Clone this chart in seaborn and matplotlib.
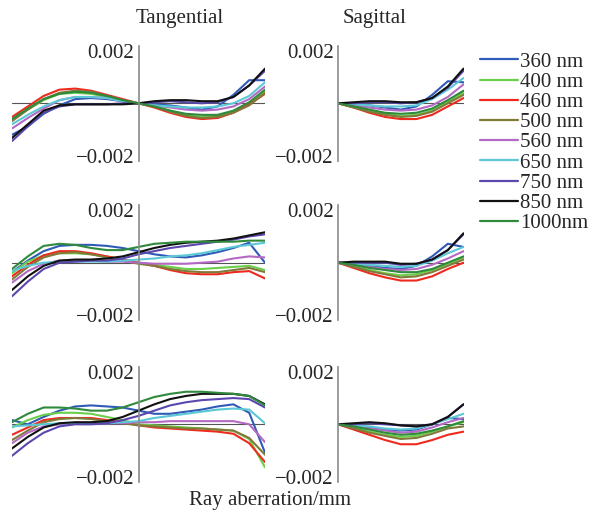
import matplotlib
matplotlib.use("Agg")
import matplotlib.pyplot as plt
import numpy as np
import pandas as pd
import seaborn as sns

# ---------------- data ----------------
wavelengths = ["360 nm", "400 nm", "460 nm", "500 nm", "560 nm", "650 nm", "750 nm", "850 nm", "1000nm"]
colors = ["#2f5bb7", "#6ccf4a", "#ee2a1e", "#807a3a", "#b469c4", "#5cc8d6", "#5b47ae", "#111111", "#2f8a3c"]

x_tan = [-1, -0.875, -0.75, -0.625, -0.5, -0.375, -0.25, -0.125, 0,
         0.125, 0.25, 0.375, 0.5, 0.625, 0.75, 0.875, 1]
x_sag = [0, 0.125, 0.25, 0.375, 0.5, 0.625, 0.75, 0.875, 1]

# Row 1 tangential
t1_360 = [-0.0012, -0.00088, -0.0004, -0.00008, 0.00016, 0.0002, 0.00016, 0.00008, 0, -0.00004, -0.00008, -0.00016, -0.00024, -0.00012, 0.00032, 0.00088, 0.00088]
t1_400 = [-0.00064, -0.00024, 0.00012, 0.00036, 0.0004, 0.00036, 0.00024, 0.00012, 0, -0.00012, -0.00028, -0.00044, -0.00052, -0.00048, -0.00032, -0.00004, 0.00044]
t1_460 = [-0.00052, -0.00012, 0.00028, 0.00052, 0.00056, 0.00048, 0.00032, 0.00016, 0, -0.00016, -0.00036, -0.00052, -0.0006, -0.00056, -0.00036, -0.00004, 0.00036]
t1_500 = [-0.00068, -0.00024, 0.00016, 0.0004, 0.00048, 0.00044, 0.00028, 0.00012, 0, -0.00012, -0.00032, -0.00048, -0.00056, -0.00052, -0.00036, -0.00008, 0.0004]
t1_560 = [-0.00096, -0.00056, -0.0002, 0.00012, 0.00024, 0.00024, 0.0002, 0.00008, 0, -0.00008, -0.00016, -0.00024, -0.00028, -0.00024, -0.00012, 0.00016, 0.00064]
t1_650 = [-0.0008, -0.00044, -0.00012, 0.00012, 0.00024, 0.00024, 0.0002, 0.00008, 0, -0.00008, -0.00012, -0.00016, -0.00016, -0.00012, 0, 0.00028, 0.0008]
t1_750 = [-0.00144, -0.00088, -0.00036, -0.00012, -0.00004, -0.00004, -0.00004, 0, 0, 0.00004, 0.00008, 0.00004, 0, 0.00004, 0.00024, 0.00068, 0.00124]
t1_850 = [-0.00132, -0.0008, -0.00028, -0.00008, -0.00004, -0.00004, -0.00004, -0.00004, 0, 0.00008, 0.00012, 0.00012, 0.00008, 0.00008, 0.00024, 0.00068, 0.00132]
t1_1000 = [-0.0006, -0.0002, 0.00016, 0.00036, 0.00044, 0.0004, 0.00028, 0.00012, 0, -0.00012, -0.00028, -0.0004, -0.00044, -0.00044, -0.00028, 0.00004, 0.00052]

# Row 1 sagittal
s1_360 = [0, -0.00004, -0.00008, -0.00016, -0.00024, -0.00012, 0.00032, 0.00084, 0.0008]
s1_400 = [0, -0.00012, -0.00028, -0.0004, -0.00048, -0.00044, -0.00028, 0.00004, 0.0004]
s1_460 = [0, -0.00016, -0.00036, -0.00052, -0.0006, -0.0006, -0.00044, -0.00012, 0.0002]
s1_500 = [0, -0.00016, -0.00032, -0.00044, -0.00052, -0.00048, -0.00032, 0, 0.00032]
s1_560 = [0, -0.00008, -0.00016, -0.00024, -0.00028, -0.00024, -0.00008, 0.00024, 0.00072]
s1_650 = [0, -0.00004, -0.00008, -0.00012, -0.00012, -0.00008, 0.00016, 0.00052, 0.00096]
s1_750 = [0, 0, 0.00004, 0.00004, 0, 0.00004, 0.0002, 0.0006, 0.00124]
s1_850 = [0, 0.00004, 0.00008, 0.00008, 0.00004, 0.00004, 0.0002, 0.00064, 0.00132]
s1_1000 = [0, -0.00012, -0.00024, -0.00036, -0.0004, -0.00036, -0.0002, 0.00012, 0.00048]

# Row 2 tangential
t2_360 = [-0.00036, 0.00008, 0.00044, 0.00064, 0.00068, 0.00068, 0.00064, 0.00056, 0.00044, 0.00032, 0.00024, 0.0002, 0.00028, 0.0004, 0.00056, 0.00076, 0]
t2_400 = [-0.0004, 0.00004, 0.00028, 0.00036, 0.00036, 0.00032, 0.00024, 0.00012, 0, -0.00008, -0.00016, -0.00024, -0.00024, -0.0002, -0.00016, -0.00012, -0.00028]
t2_460 = [-0.00052, -0.00008, 0.00028, 0.00044, 0.00044, 0.00036, 0.00024, 0.00012, 0, -0.00012, -0.00028, -0.0004, -0.00044, -0.00044, -0.00036, -0.00032, -0.0006]
t2_500 = [-0.00064, -0.00016, 0.0002, 0.00036, 0.0004, 0.00032, 0.0002, 0.00008, -0.00004, -0.00012, -0.00024, -0.00032, -0.00036, -0.00036, -0.00028, -0.0002, -0.00036]
t2_560 = [-0.00076, -0.00032, -0.00004, 0.00008, 0.00008, 0.00008, 0.00004, 0.00004, 0, -0.00004, -0.00004, -0.00004, 0, 0.00004, 0.00016, 0.00024, 0.0002]
t2_650 = [-0.00032, -0.00012, 0, 0.00004, 0.00004, 0.00004, 0.00004, 0.00008, 0.00012, 0.00016, 0.00024, 0.00028, 0.00036, 0.00048, 0.0006, 0.00068, 0.00076]
t2_750 = [-0.00128, -0.00072, -0.00024, 0, 0.00004, 0.00008, 0.00008, 0.00016, 0.00032, 0.00044, 0.00056, 0.00064, 0.00072, 0.0008, 0.00088, 0.001, 0.00108]
t2_850 = [-0.00104, -0.00052, -0.00012, 0.00008, 0.00012, 0.00012, 0.00016, 0.00024, 0.0004, 0.00056, 0.00068, 0.00076, 0.0008, 0.00084, 0.00092, 0.00104, 0.00116]
t2_1000 = [-0.00024, 0.00024, 0.00064, 0.00072, 0.00068, 0.00056, 0.00048, 0.00048, 0.0006, 0.00072, 0.00076, 0.0008, 0.0008, 0.0008, 0.0008, 0.00084, 0.00084]

# Row 2 sagittal
s2_360 = [0, -0.00004, -0.00012, -0.0002, -0.00024, -0.00012, 0.00024, 0.00072, 0.0006]
s2_400 = [0, -0.00012, -0.00028, -0.0004, -0.00048, -0.00044, -0.00028, -0.00004, 0.0002]
s2_460 = [0, -0.0002, -0.0004, -0.00056, -0.00068, -0.00068, -0.00052, -0.00024, 0]
s2_500 = [0, -0.00016, -0.00032, -0.00044, -0.00056, -0.00052, -0.00036, -0.00012, 0.00012]
s2_560 = [0, -0.00008, -0.00016, -0.00024, -0.00028, -0.00024, -0.00008, 0.00016, 0.00044]
s2_650 = [0, -0.00004, -0.00008, -0.00012, -0.00016, -0.00012, 0.00008, 0.00036, 0.0006]
s2_750 = [0, 0, 0, 0, -0.00008, -0.00004, 0.00012, 0.00048, 0.00108]
s2_850 = [0, 0.00004, 0.00004, 0.00004, -0.00004, -0.00004, 0.00012, 0.00048, 0.00112]
s2_1000 = [0, -0.00008, -0.0002, -0.00028, -0.00036, -0.00036, -0.00024, 0, 0.00024]

# Row 3 tangential
t3_360 = [0.00016, 0, 0.00028, 0.00052, 0.00068, 0.00072, 0.00068, 0.00064, 0.00052, 0.0004, 0.0004, 0.00048, 0.00056, 0.00068, 0.00076, 0.00044, -0.00108]
t3_400 = [-0.00012, 0.00016, 0.00036, 0.00044, 0.00044, 0.0004, 0.00028, 0.00016, 0, -0.00004, -0.00008, -0.00012, -0.00016, -0.0002, -0.00024, -0.00056, -0.00164]
t3_460 = [-0.0004, -0.00012, 0.00016, 0.00024, 0.00024, 0.00024, 0.00016, 0.00008, -0.00004, -0.00012, -0.00016, -0.0002, -0.00024, -0.00028, -0.00036, -0.00072, -0.00144]
t3_500 = [-0.0006, -0.00024, 0.00008, 0.0002, 0.00024, 0.0002, 0.00012, 0.00004, -0.00004, -0.00008, -0.00012, -0.00016, -0.00016, -0.0002, -0.00024, -0.00052, -0.00116]
t3_560 = [-0.00072, -0.00032, -0.00008, 0, 0.00004, 0.00004, 0.00004, 0.00004, 0.00008, 0.00008, 0.00012, 0.00012, 0.00012, 0.00012, 0.00012, 0, -0.00068]
t3_650 = [-0.00008, -0.00004, 0, 0.00004, 0.00004, 0.00004, 0.00004, 0.00008, 0.00012, 0.00024, 0.00032, 0.0004, 0.00048, 0.00056, 0.0006, 0.00056, 0.00004]
t3_750 = [-0.0012, -0.00072, -0.00032, -0.00008, 0, 0, 0.00004, 0.00016, 0.00032, 0.00052, 0.00072, 0.00084, 0.00092, 0.00096, 0.001, 0.00096, 0.00064]
t3_850 = [-0.00092, -0.00048, -0.00012, 0.00004, 0.00008, 0.00008, 0.00012, 0.00028, 0.00052, 0.00076, 0.00096, 0.00108, 0.00116, 0.00116, 0.00116, 0.00108, 0.00076]
t3_1000 = [0.00008, 0.0004, 0.00064, 0.00064, 0.0006, 0.00052, 0.00052, 0.00064, 0.00084, 0.00104, 0.00116, 0.00124, 0.00124, 0.0012, 0.00116, 0.00108, 0.00072]

# Row 3 sagittal
s3_360 = [0, -0.00004, -0.00012, -0.0002, -0.00024, -0.0002, 0, 0.00024, 0.0002]
s3_400 = [0, -0.00012, -0.00028, -0.0004, -0.00048, -0.00044, -0.00028, -0.00008, 0.00008]
s3_460 = [0, -0.0002, -0.0004, -0.0006, -0.00076, -0.00076, -0.0006, -0.0004, -0.00028]
s3_500 = [0, -0.00016, -0.00032, -0.00044, -0.00056, -0.00052, -0.00036, -0.00016, -0.00008]
s3_560 = [0, -0.00008, -0.00016, -0.00024, -0.00032, -0.00028, -0.00012, 0.00008, 0.00024]
s3_650 = [0, -0.00004, -0.00008, -0.00016, -0.0002, -0.00016, 0, 0.0002, 0.0004]
s3_750 = [0, 0, 0.00004, 0, -0.00004, -0.00008, 0, 0.00028, 0.00076]
s3_850 = [0, 0.00004, 0.00008, 0.00004, -0.00004, -0.00008, 0, 0.00028, 0.00076]
s3_1000 = [0, -0.00008, -0.0002, -0.00032, -0.0004, -0.00036, -0.00024, -0.00008, 0.00012]

tick_vals = [-0.002, 0.002]
tick_labels = ["\u22120.002", "0.002"]

panels = {
    "t1": (x_tan, [t1_360, t1_400, t1_460, t1_500, t1_560, t1_650, t1_750, t1_850, t1_1000]),
    "s1": (x_sag, [s1_360, s1_400, s1_460, s1_500, s1_560, s1_650, s1_750, s1_850, s1_1000]),
    "t2": (x_tan, [t2_360, t2_400, t2_460, t2_500, t2_560, t2_650, t2_750, t2_850, t2_1000]),
    "s2": (x_sag, [s2_360, s2_400, s2_460, s2_500, s2_560, s2_650, s2_750, s2_850, s2_1000]),
    "t3": (x_tan, [t3_360, t3_400, t3_460, t3_500, t3_560, t3_650, t3_750, t3_850, t3_1000]),
    "s3": (x_sag, [s3_360, s3_400, s3_460, s3_500, s3_560, s3_650, s3_750, s3_850, s3_1000]),
}

records = []
for pname, (xs, series) in panels.items():
    for wl, ys in zip(wavelengths, series):
        for xv, yv in zip(xs, ys):
            records.append({"panel": pname, "wl": wl, "x": xv, "y": yv})
df = pd.DataFrame(records)

# ---------------- style ----------------
sns.set_theme(style="white")
plt.rcParams["font.family"] = ["Liberation Serif", "DejaVu Serif"]
FS = 15

W, H = 592, 514
fig = plt.figure(figsize=(W / 100, H / 100), dpi=100)
fig.patch.set_facecolor("white")

palette = dict(zip(wavelengths, colors))

def px_axes(x0, x1, y0, y1):
    return fig.add_axes([x0 / W, 1 - y1 / H, (x1 - x0) / W, (y1 - y0) / H])

row_zero = [103.3, 262.7, 424.3]
half = 57.75
YL = 0.0022

handles = labels = None
for r, z in enumerate(row_zero):
    for kind in ("t", "s"):
        pname = f"{kind}{r + 1}"
        if kind == "t":
            ax = px_axes(12, 265, z - half, z + half)
            ax.set_xlim(-1, 1)
        else:
            ax = px_axes(338, 463.5, z - half, z + half)
            ax.set_xlim(0, 1)
        ax.set_ylim(-YL, YL)
        ax.patch.set_alpha(0)
        ax.axhline(0, color="#555555", lw=0.8, zorder=0)
        sns.lineplot(data=df[df["panel"] == pname], x="x", y="y", hue="wl",
                     hue_order=wavelengths, palette=palette, sort=False,
                     estimator=None, lw=1.5, ax=ax, legend=(pname == "t1"))
        if pname == "t1":
            handles, labels = ax.get_legend_handles_labels()
            ax.get_legend().remove()
        for s in ("top", "right", "bottom"):
            ax.spines[s].set_visible(False)
        ax.spines["left"].set_position(("data", 0))
        ax.spines["left"].set_color("#8a8a8a")
        ax.spines["left"].set_linewidth(1.2)
        ax.set_xticks([])
        ax.set_yticks(tick_vals)
        ax.set_yticklabels(tick_labels)
        ax.tick_params(axis="y", length=0, pad=3, labelsize=FS)
        ax.set_xlabel("")
        ax.set_ylabel("")

fig.text(180 / W, 1 - 18 / H, "Tangential", ha="center", va="center", fontsize=FS)
fig.text(375 / W, 1 - 18 / H, "Sagittal", ha="center", va="center", fontsize=FS)
fig.text(270 / W, 1 - 500 / H, "Ray aberration/mm", ha="center", va="center", fontsize=FS)

leg = fig.legend(handles, labels, loc="upper left", bbox_to_anchor=(480 / W, 1 - 52 / H),
                 frameon=False, fontsize=FS, handlelength=1.83, handletextpad=0.1,
                 labelspacing=0.03, borderpad=0, borderaxespad=0)
for line in leg.get_lines():
    line.set_linewidth(1.6)

fig.savefig("out.png", dpi=100)
